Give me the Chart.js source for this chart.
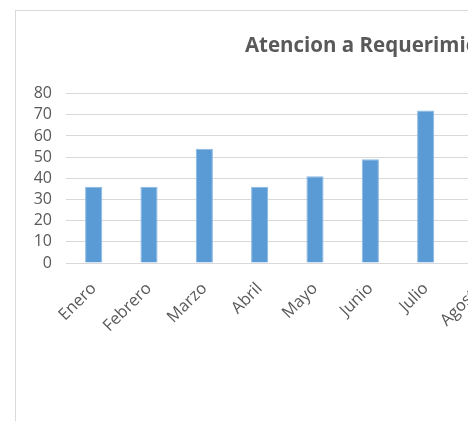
<!DOCTYPE html>
<html>
<head>
<meta charset="utf-8">
<script src="https://cdn.jsdelivr.net/npm/chart.js@4.4.1/dist/chart.umd.min.js"></script>
<style>
    html, body { margin: 0; padding: 0; background: #fff; overflow: hidden; }
    #marco {
        position: absolute; left: 15px; top: 10px;
        width: 736px; height: 440px;
        border: 1px solid #d9d9d9;
    }
    #graficoAtencion { display: block; }
</style>
</head>
<body>
<div id="marco"><canvas id="graficoAtencion" width="736" height="402"></canvas></div>
<script>
// datos del grafico
const meses = ['Enero', 'Febrero', 'Marzo', 'Abril', 'Mayo', 'Junio', 'Julio',
               'Agosto', 'Septiembre', 'Octubre', 'Noviembre', 'Diciembre'];
// solo se ven hasta Julio en la imagen
const atenciones = [36, 36, 54, 36, 41, 49, 72, null, null, null, null, null];
const ticksY = [0, 10, 20, 30, 40, 50, 60, 70, 80];

const fuente = "'Open Sans', 'Liberation Sans', sans-serif";

document.addEventListener('DOMContentLoaded', () => {
    const ctx = document.getElementById('graficoAtencion').getContext('2d');

    const graficoAtencion = new Chart(ctx, {
        type: 'bar',
        data: {
            labels: meses,
            datasets: [{
                label: 'Atenciones',
                data: atenciones,
                backgroundColor: '#5b9bd5',
                borderColor: '#8ab8e2',
                borderWidth: 1,
                categoryPercentage: 1,
                barPercentage: 0.31
            }]
        },
        options: {
            responsive: false,
            animation: false,
            layout: { padding: 0 },
            scales: {
                x: {
                    grid: { display: false, drawTicks: false },
                    border: { display: false },
                    ticks: {
                        color: '#595959',
                        font: { family: fuente, size: 16.5 },
                        minRotation: 45,
                        maxRotation: 45,
                        padding: 16,
                        autoSkip: false
                    },
                    afterFit: (escala) => { escala.height = 150; }
                },
                y: {
                    min: 0,
                    max: 80,
                    afterBuildTicks: (escala) => {
                        escala.ticks = ticksY.map(v => ({ value: v }));
                    },
                    grid: { color: '#d9d9d9', lineWidth: 1, drawTicks: false },
                    border: { display: false },
                    ticks: {
                        color: '#595959',
                        font: { family: fuente, size: 16 },
                        padding: 14,
                        autoSkip: false
                    },
                    afterFit: (escala) => { escala.width = 50; }
                },
                // margen derecho vacio, para que el titulo quede centrado en el cuadro
                margenDerecho: {
                    type: 'linear',
                    position: 'right',
                    grid: { display: false, drawTicks: false },
                    border: { display: false },
                    ticks: { display: false },
                    afterFit: (escala) => { escala.width = 22; }
                }
            },
            plugins: {
                legend: { display: false },
                tooltip: { enabled: false },
                title: {
                    display: true,
                    text: 'Atencion a Requerimientos',
                    color: '#595959',
                    font: { family: fuente, size: 20.5, weight: 'bold' },
                    padding: { top: 23, bottom: 35 }
                }
            }
        }
    });
});
</script>
</body>
</html>
